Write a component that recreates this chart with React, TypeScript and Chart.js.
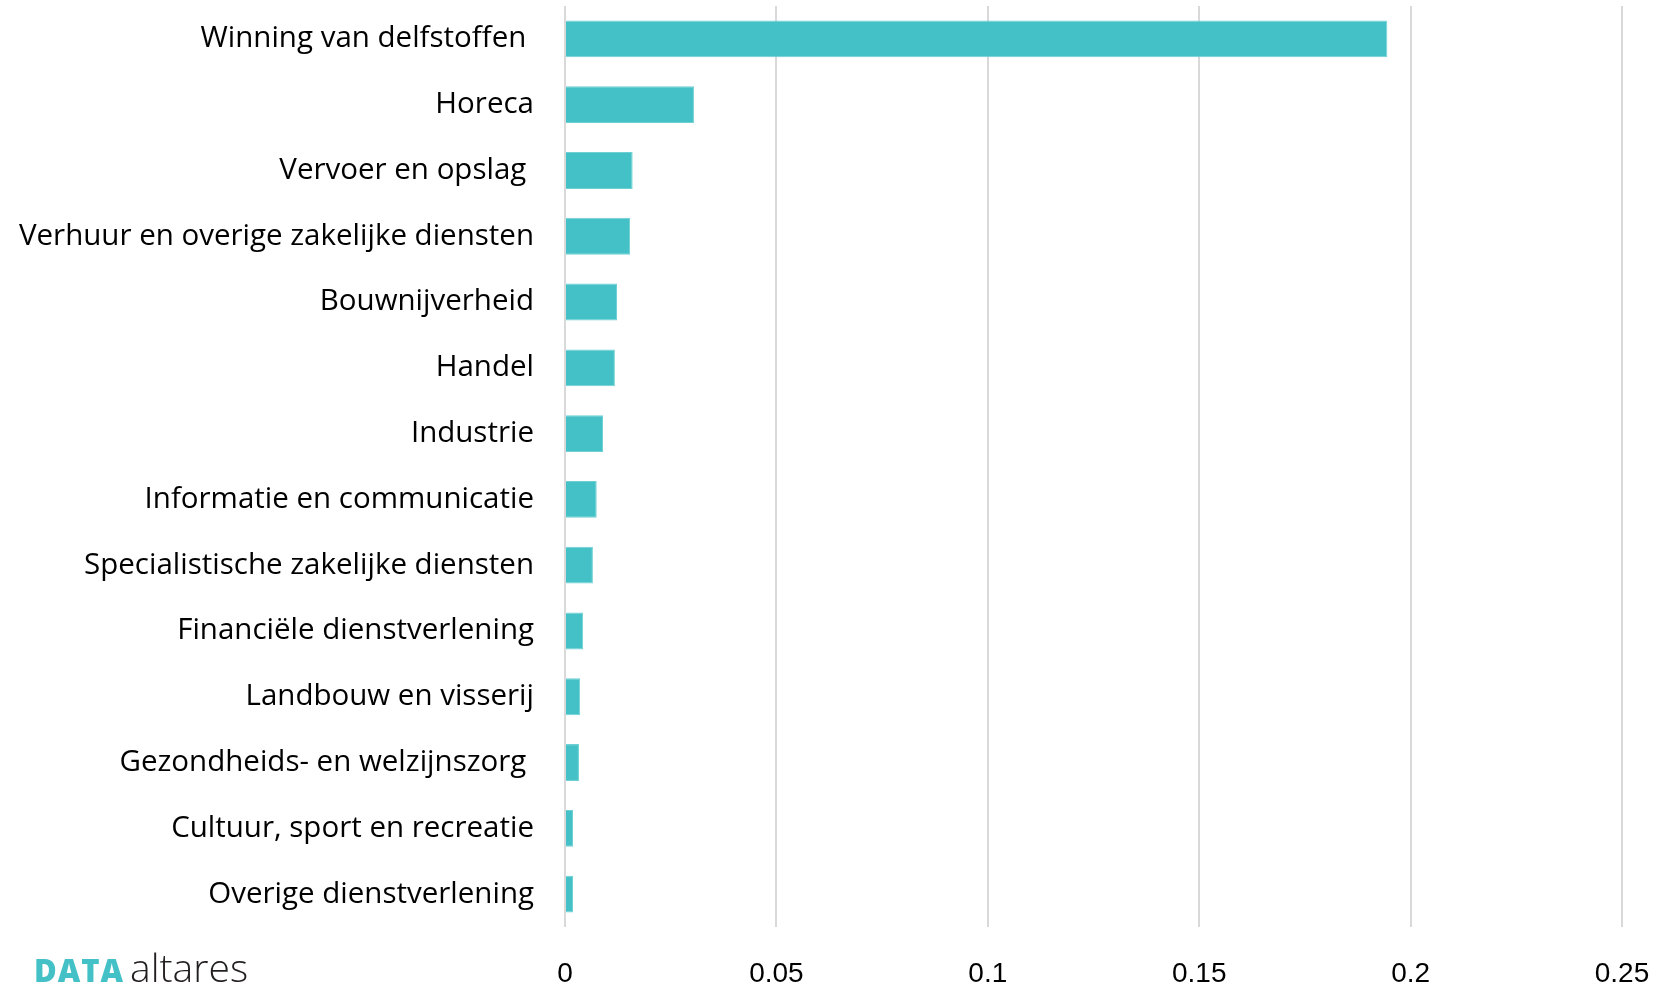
import React, { useEffect, useRef } from "react";
import { Chart, registerables } from "chart.js";

Chart.register(...registerables);

const categories = [
  "Winning van delfstoffen ",
  "Horeca",
  "Vervoer en opslag ",
  "Verhuur en overige zakelijke diensten",
  "Bouwnijverheid",
  "Handel",
  "Industrie",
  "Informatie en communicatie",
  "Specialistische zakelijke diensten",
  "Financiële dienstverlening",
  "Landbouw en visserij",
  "Gezondheids- en welzijnszorg ",
  "Cultuur, sport en recreatie",
  "Overige dienstverlening",
];

const values = [
  0.1945, 0.0305, 0.016, 0.0154, 0.0123, 0.0118, 0.009, 0.0075, 0.0066,
  0.0043, 0.0036, 0.0033, 0.0019, 0.0019,
];

const xTicks = [0, 0.05, 0.1, 0.15, 0.2, 0.25];

export default function App() {
  const ref = useRef<HTMLCanvasElement | null>(null);

  useEffect(() => {
    document.body.style.margin = "0";
    const canvas = ref.current;
    if (!canvas) return;
    const chart = new Chart(canvas, {
      type: "bar",
      data: {
        labels: categories,
        datasets: [
          {
            data: values,
            backgroundColor: "#43C1C6",
            borderColor: "#6FD0D4",
            borderWidth: 1,
            categoryPercentage: 1,
            barPercentage: 0.56,
          },
        ],
      },
      options: {
        indexAxis: "y",
        responsive: false,
        animation: false,
        devicePixelRatio: 1,
        layout: { padding: { top: 6, right: 33, left: 0, bottom: 0 } },
        plugins: { legend: { display: false }, tooltip: { enabled: false } },
        scales: {
          x: {
            min: 0,
            max: 0.25,
            afterBuildTicks: (scale: any) => {
              scale.ticks = xTicks.map((v) => ({ value: v }));
            },
            afterFit: (scale: any) => {
              scale.height = 59;
              scale.paddingLeft = 0;
              scale.paddingRight = 0;
              scale.paddingTop = 0;
              scale.paddingBottom = 0;
            },
            grid: { color: "#D9D9D9", lineWidth: 2, drawTicks: false },
            border: { display: false },
            ticks: {
              padding: 30,
              color: "#000000",
              font: { family: "'Liberation Sans', Arial, sans-serif", size: 28 },
              callback: (v: any) => String(Number(Number(v).toFixed(2))),
            },
          },
          y: {
            afterFit: (scale: any) => {
              scale.width = 565;
              scale.paddingTop = 0;
              scale.paddingBottom = 0;
              scale.paddingLeft = 0;
              scale.paddingRight = 0;
            },
            grid: { display: false, drawTicks: false },
            border: { display: false },
            ticks: {
              padding: 31,
              color: "#000000",
              font: { family: "'Open Sans', sans-serif", size: 29.5 },
            },
          },
        },
      },
    });
    return () => chart.destroy();
  }, []);

  return (
    <div
      style={{
        position: "fixed",
        left: 0,
        top: 0,
        width: 1655,
        height: 986,
        overflow: "hidden",
        background: "#ffffff",
      }}
    >
      <canvas ref={ref} width={1655} height={986} style={{ display: "block" }} />
      <div
        style={{
          position: "absolute",
          left: 34,
          top: 943,
          whiteSpace: "nowrap",
          lineHeight: "48px",
          fontFamily: "'Open Sans', sans-serif",
        }}
      >
        <span style={{ color: "#43C1C6", fontWeight: 800, fontSize: 31, letterSpacing: 1 }}>DATA</span>
        <span style={{ color: "#231F20", fontWeight: 300, fontSize: 39, marginLeft: 6 }}>altares</span>
      </div>
    </div>
  );
}
